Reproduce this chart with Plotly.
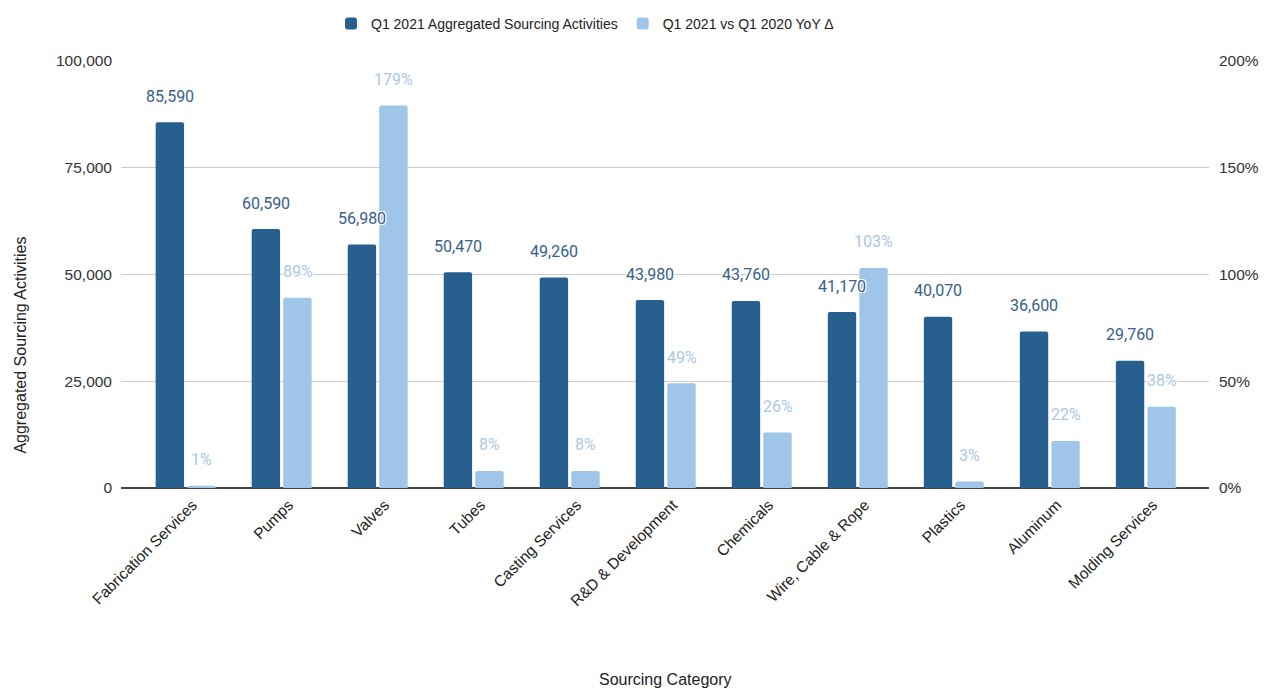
import plotly.graph_objects as go

categories = ["Fabrication Services", "Pumps", "Valves", "Tubes", "Casting Services",
              "R&D & Development", "Chemicals", "Wire, Cable & Rope", "Plastics",
              "Aluminum", "Molding Services"]
activities = [85590, 60590, 56980, 50470, 49260, 43980, 43760, 41170, 40070, 36600, 29760]
yoy_pct = [1, 89, 179, 8, 8, 49, 26, 103, 3, 22, 38]

left_ticks = [0, 25000, 50000, 75000, 100000]
right_ticks = [0, 50, 100, 150, 200]
right_tick_text = ["0%", "50%", "100%", "150%", "200%"]

DARK = "#27608f"
LIGHT = "#9fc5e8"
DARK_LBL = "#37608a"
LIGHT_LBL = "#a9c9e6"
AXIS_FONT = "Liberation Sans, Arial, sans-serif"
LBL_FONT = "Roboto, sans-serif"
SHADOW = "1px 1px 0 #fff, -1px -1px 0 #fff, 1px -1px 0 #fff, -1px 1px 0 #fff"

W, H = 1263, 681

fig = go.Figure()
fig.add_trace(go.Bar(x=categories, y=activities, name="Q1 2021 Aggregated Sourcing Activities",
                     marker=dict(color=DARK, line=dict(width=0)), offsetgroup="a", yaxis="y"))
fig.add_trace(go.Bar(x=categories, y=yoy_pct, name="Q1 2021 vs Q1 2020 YoY Δ",
                     marker=dict(color=LIGHT, line=dict(width=0)), offsetgroup="b", yaxis="y2"))

annotations = []
for c, v in zip(categories, activities):
    annotations.append(dict(x=c, y=v, xref="x", yref="y", text=f"{v:,}", showarrow=False,
                            xshift=-16, yshift=26, yanchor="middle",
                            font=dict(family=LBL_FONT, size=16, color=DARK_LBL, shadow=SHADOW)))
for c, v in zip(categories, yoy_pct):
    annotations.append(dict(x=c, y=v, xref="x", yref="y2", text=f"{v}%", showarrow=False,
                            xshift=16, yshift=26, yanchor="middle",
                            font=dict(family=LBL_FONT, size=16, color=LIGHT_LBL, shadow=SHADOW)))

annotations.append(dict(text="Aggregated Sourcing Activities", xref="paper", yref="paper",
                        x=-0.0925, y=0.334, textangle=-90, showarrow=False,
                        xanchor="center", yanchor="middle",
                        font=dict(family=AXIS_FONT, size=16, color="#222222")))
annotations.append(dict(text="Sourcing Category", xref="paper", yref="paper",
                        x=0.5, y=-0.449, showarrow=False, xanchor="center", yanchor="middle",
                        font=dict(family=AXIS_FONT, size=16, color="#222222")))

fig.update_layout(
    width=W, height=H,
    margin=dict(l=113, r=56, t=52, b=201),
    paper_bgcolor="white", plot_bgcolor="white",
    barmode="group", bargap=0.343, bargroupgap=0.1, barcornerradius=2,
    font=dict(family=AXIS_FONT, size=14, color="#333333"),
    legend=dict(orientation="h", x=323 / W, xref="container", xanchor="left",
                y=1.0, yref="container", yanchor="top",
                font=dict(family=AXIS_FONT, size=14, color="#222222"),
                itemwidth=30, traceorder="normal"),
    xaxis=dict(range=[-0.673, 10.658], tickangle=-45, showgrid=False, ticks="",
               ticklabelstandoff=4, ticklabelshift=7,
               tickfont=dict(family=AXIS_FONT, size=15.5, color="#222222"),
               showline=False, zeroline=False),
    yaxis=dict(range=[0, 100000], tickvals=left_ticks, tickformat=",",
               showgrid=True, gridcolor="#cccccc", gridwidth=1,
               zeroline=True, zerolinecolor="#444444", zerolinewidth=1.5,
               ticks="", ticklabelstandoff=8,
               tickfont=dict(family=AXIS_FONT, size=15.5, color="#333333")),
    yaxis2=dict(range=[0, 200], tickmode="array", tickvals=right_ticks, ticktext=right_tick_text,
                overlaying="y", side="right", showgrid=False, zeroline=False,
                ticks="", ticklabelstandoff=9,
                tickfont=dict(family=AXIS_FONT, size=15.5, color="#333333")),
    annotations=annotations,
    showlegend=True,
)

fig.write_html("out.html")
